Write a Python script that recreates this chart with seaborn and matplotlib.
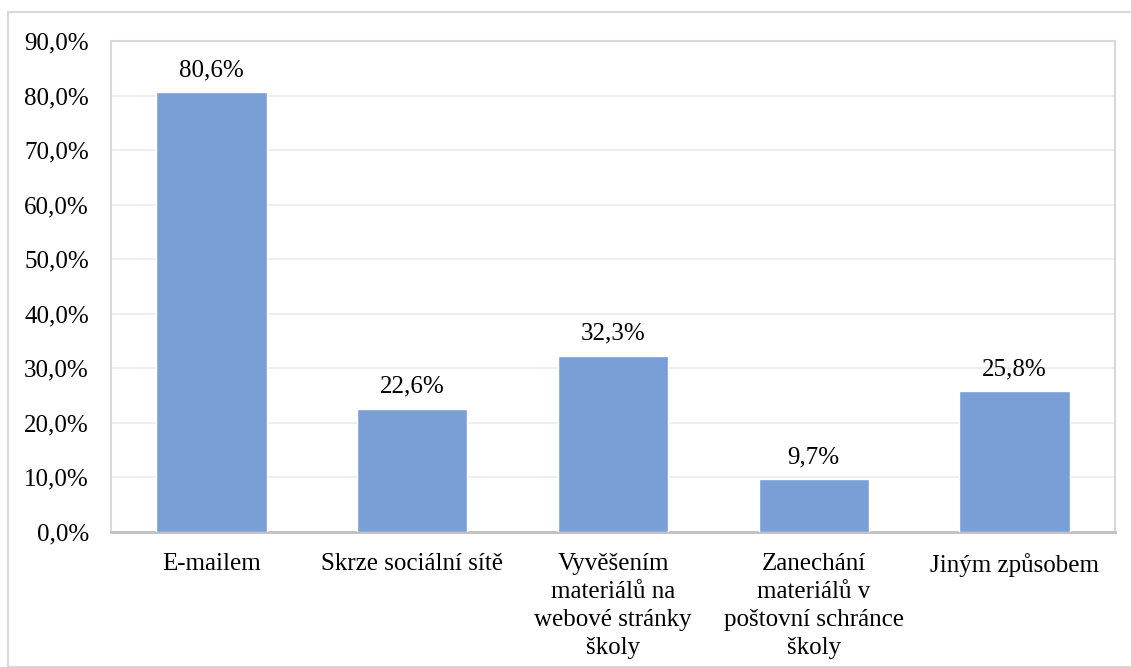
import numpy as np
import pandas as pd
import seaborn as sns
import matplotlib.pyplot as plt
from matplotlib.ticker import FuncFormatter
from matplotlib.patches import Rectangle

categories = ["E-mailem", "Skrze sociální sítě",
              "Vyvěšením\nmateriálů na\nwebové stránky\nškoly",
              "Zanechání\nmateriálů v\npoštovní schránce\nškoly",
              "Jiným způsobem"]
values = [80.6, 22.6, 32.3, 9.7, 25.8]

sns.set_theme(style="white")
plt.rcParams['font.family'] = ['Liberation Serif', 'DejaVu Serif']
plt.rcParams['text.color'] = 'black'

df = pd.DataFrame({"kategorie": categories, "podil": values})

fig = plt.figure(figsize=(11.31, 6.67), dpi=100)
ax = fig.add_axes([111 / 1131, 1 - 532 / 667, (1115 - 111) / 1131, (532 - 41) / 667])

sns.barplot(data=df, x="kategorie", y="podil", color="#7A9ED6", saturation=1,
            width=0.55, ax=ax, zorder=3)

ax.set_ylim(0, 90)
ax.set_yticks(np.arange(0, 91, 10))
ax.yaxis.set_major_formatter(FuncFormatter(lambda v, p: f"{v:.1f}%".replace(".", ",")))
ax.grid(axis="y", color="#EBEBEB", linewidth=1.2, zorder=0)
ax.set_xlabel("")
ax.set_ylabel("")
ax.tick_params(axis="both", length=0, labelsize=18, colors="black")
ax.tick_params(axis="x", pad=15)
ax.tick_params(axis="y", pad=16)
for lbl in ax.get_xticklabels():
    lbl.set_linespacing(1.36)
    lbl.set_verticalalignment("top")

for side in ["left", "top", "right"]:
    ax.spines[side].set_color("#D9D9D9")
    ax.spines[side].set_linewidth(1.5)
ax.spines["bottom"].set_color("#BFBFBF")
ax.spines["bottom"].set_linewidth(2)

for cont in ax.containers:
    ax.bar_label(cont, labels=[f"{v:.1f}%".replace(".", ",") for v in values],
                 padding=8, fontsize=18, color="black")

fig.patches.append(Rectangle((8 / 1131, 0), 1, 1 - 12 / 667, transform=fig.transFigure,
                             fill=False, edgecolor="#D9D9D9", linewidth=1.5))

fig.savefig("out.png", dpi=100)
